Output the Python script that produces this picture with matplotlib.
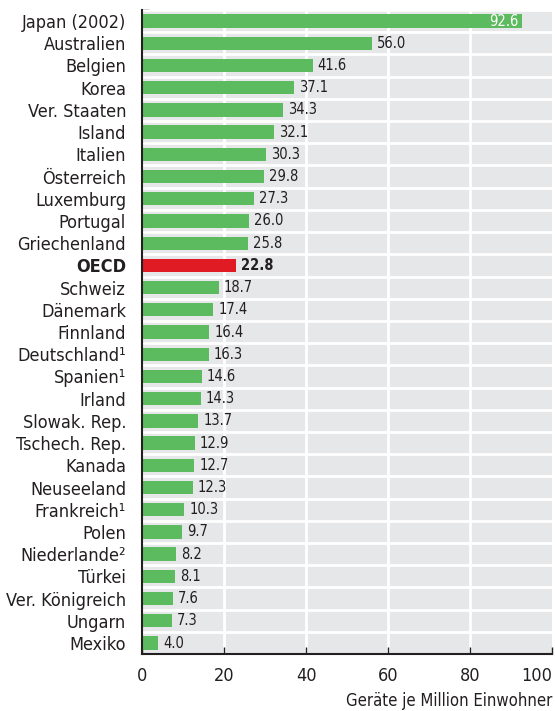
import numpy as np
import matplotlib
matplotlib.use('Agg')
import matplotlib.pyplot as plt

plt.rcParams['font.family'] = ['DejaVu Sans']
plt.rcParams['font.stretch'] = 'condensed'

# Data
countries = ['Japan (2002)', 'Australien', 'Belgien', 'Korea', 'Ver. Staaten', 'Island',
             'Italien', 'Österreich', 'Luxemburg', 'Portugal', 'Griechenland', 'OECD',
             'Schweiz', 'Dänemark', 'Finnland', 'Deutschland¹', 'Spanien¹', 'Irland',
             'Slowak. Rep.', 'Tschech. Rep.', 'Kanada', 'Neuseeland', 'Frankreich¹',
             'Polen', 'Niederlande²', 'Türkei', 'Ver. Königreich', 'Ungarn', 'Mexiko']
values = [92.6, 56.0, 41.6, 37.1, 34.3, 32.1, 30.3, 29.8, 27.3, 26.0, 25.8, 22.8,
          18.7, 17.4, 16.4, 16.3, 14.6, 14.3, 13.7, 12.9, 12.7, 12.3, 10.3,
          9.7, 8.2, 8.1, 7.6, 7.3, 4.0]
xticks = [0, 20, 40, 60, 80, 100]

green = '#5cbb5e'
red = '#e01b23'
bg = '#e6e7e8'
txt = '#231f20'

n = len(countries)
y = np.arange(n)
colors = [red if c == 'OECD' else green for c in countries]

fig = plt.figure(figsize=(5.55, 7.11), dpi=100)
ax = fig.add_axes([0.256, 0.080, 0.739, 0.906])
ax.set_facecolor(bg)

ax.barh(y, values, height=0.6, color=colors, zorder=3)

# white grid
for xv in xticks[1:-1]:
    ax.axvline(xv, color='white', lw=2, zorder=1)
for b in np.arange(-0.5, n, 1.0):
    ax.axhline(b, color='white', lw=2, zorder=2)

for yi, v, c in zip(y, values, countries):
    bold = 'bold' if c == 'OECD' else 'normal'
    if v > 80:
        ax.text(v - 0.8, yi, f'{v:.1f}', va='center', ha='right', color='white',
                fontsize=10.5, zorder=4)
    else:
        ax.text(v + 1.2, yi, f'{v:.1f}', va='center', ha='left', color=txt,
                fontsize=10.5, fontweight=bold, zorder=4)

ax.set_xlim(0, 100)
ax.set_ylim(n - 0.5, -0.5)
ax.set_xticks(xticks)
ax.set_xticklabels([str(t) for t in xticks], fontsize=13, color=txt)
ax.get_xticklabels()[-1].set_horizontalalignment('right')
ax.set_yticks(y)
ax.set_yticklabels(countries, fontsize=13, color=txt)
for lbl, c in zip(ax.get_yticklabels(), countries):
    if c == 'OECD':
        lbl.set_fontweight('bold')

ax.tick_params(axis='y', which='major', length=0, pad=11.5)
ax.set_yticks(np.arange(-0.5, n - 0.5, 1.0), minor=True)
ax.tick_params(axis='y', which='minor', direction='in', length=5, width=1, color=txt)
ax.tick_params(axis='x', direction='in', length=5, width=1, color=txt, pad=9)

for s in ['top', 'right']:
    ax.spines[s].set_visible(False)
for s in ['left', 'bottom']:
    ax.spines[s].set_color(txt)
    ax.spines[s].set_linewidth(1.5)
    ax.spines[s].set_zorder(5)

ax.set_xlabel('Geräte je Million Einwohner', fontsize=12, color=txt, loc='right', labelpad=5)

fig.savefig('out.png', dpi=100)
